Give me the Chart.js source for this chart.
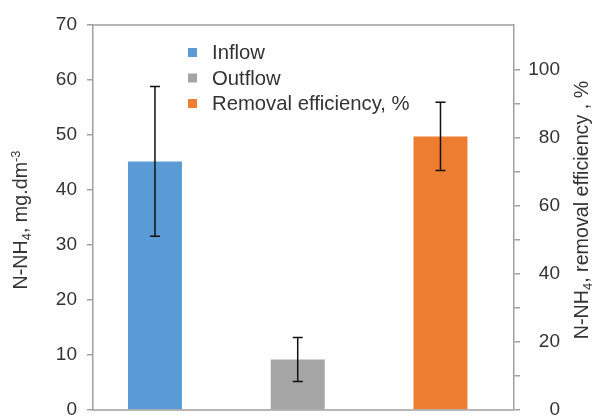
<!DOCTYPE html>
<html>
<head>
<meta charset="utf-8">
<script src="https://cdn.jsdelivr.net/npm/chart.js@4/dist/chart.umd.min.js"></script>
<style>
  html, body { margin: 0; padding: 0; background: #fff; }
  #wrap { width: 606px; height: 419px; }
</style>
</head>
<body>
<div id="wrap"><canvas id="c" width="606" height="419"></canvas></div>
<script>
// Ammonium nitrogen: inflow / outflow concentration and removal efficiency
const categories = ['Inflow', 'Outflow', 'Removal efficiency, %'];
const meanValues = [45.2, 9.2, 80.3];      // mg.dm-3, mg.dm-3, %
const errorValues = [13.6, 4.0, 10.0];     // +/- deviation
const valueAxes = ['y', 'y', 'y1'];
const barColors = ['#5B9BD5', '#A5A5A5', '#ED7D31'];
const leftTicks = [0, 10, 20, 30, 40, 50, 60, 70];
const rightTicks = [0, 10, 20, 30, 40, 50, 60, 70, 80, 90, 100];
const rightLabelStep = 20;

const FONT = "'Liberation Sans', Arial, sans-serif";
const TEXT = '#333333';
const AXIS = '#A0A0A0';

// one dataset per category so each bar gets its own legend entry and axis
const datasets = categories.map((name, i) => ({
  label: name,
  data: [{ x: i, y: meanValues[i] }],
  errors: [errorValues[i]],
  yAxisID: valueAxes[i],
  backgroundColor: barColors[i],
  borderWidth: 0,
  grouped: false,
  categoryPercentage: 1,
  barPercentage: 0.378
}));

const errorBars = {
  id: 'errorBars',
  afterDatasetsDraw(chart) {
    const ctx = chart.ctx;
    ctx.save();
    ctx.strokeStyle = '#111';
    ctx.lineWidth = 1.5;
    chart.data.datasets.forEach((ds, di) => {
      const meta = chart.getDatasetMeta(di);
      const scale = chart.scales[ds.yAxisID];
      meta.data.forEach((bar, i) => {
        const v = ds.data[i].y, e = ds.errors[i];
        if (v == null || e == null) return;
        const yt = scale.getPixelForValue(v + e);
        const yb = scale.getPixelForValue(v - e);
        const x = bar.x, cap = 5;
        ctx.beginPath();
        ctx.moveTo(x, yt); ctx.lineTo(x, yb);
        ctx.moveTo(x - cap, yt); ctx.lineTo(x + cap, yt);
        ctx.moveTo(x - cap, yb); ctx.lineTo(x + cap, yb);
        ctx.stroke();
      });
    });
    ctx.restore();
  }
};

// text runs with sub/superscripts, drawn rotated to read bottom-to-top
function drawRotatedRich(ctx, runs, cx, cy, size) {
  ctx.save();
  ctx.translate(cx, cy);
  ctx.rotate(-Math.PI / 2);
  ctx.textBaseline = 'middle';
  ctx.textAlign = 'left';
  let total = 0;
  runs.forEach(r => {
    ctx.font = (size * (r.scale || 1)) + 'px ' + FONT;
    r.w = ctx.measureText(r.text).width;
    total += r.w;
  });
  let x = -total / 2;
  runs.forEach(r => {
    ctx.font = (size * (r.scale || 1)) + 'px ' + FONT;
    ctx.fillText(r.text, x, (r.shift || 0) * size);
    x += r.w;
  });
  ctx.restore();
}

const decorations = {
  id: 'decorations',
  afterDraw(chart) {
    const ctx = chart.ctx;
    const a = chart.chartArea;
    ctx.save();
    // top and bottom frame lines
    ctx.strokeStyle = AXIS;
    ctx.lineWidth = 1.5;
    ctx.beginPath();
    ctx.moveTo(a.left, a.top); ctx.lineTo(a.right, a.top);
    ctx.moveTo(a.left, a.bottom); ctx.lineTo(a.right, a.bottom);
    ctx.stroke();

    // legend inside the plot area
    ctx.font = '20.3px ' + FONT;
    ctx.textBaseline = 'middle';
    ctx.textAlign = 'left';
    const rows = [52.5, 78, 103.5];
    chart.data.datasets.forEach((ds, i) => {
      ctx.fillStyle = ds.backgroundColor;
      ctx.fillRect(188, rows[i] - 4.5, 9, 9);
      ctx.fillStyle = TEXT;
      ctx.fillText(ds.label, 212, rows[i] + 1);
    });

    // axis titles
    ctx.fillStyle = TEXT;
    drawRotatedRich(ctx, [
      { text: 'N-NH' },
      { text: '4', scale: 0.65, shift: 0.28 },
      { text: ', mg.dm' },
      { text: '-3', scale: 0.65, shift: -0.3 }
    ], 22, 220, 19.7);
    drawRotatedRich(ctx, [
      { text: 'N-NH' },
      { text: '4', scale: 0.65, shift: 0.28 },
      { text: ', removal efficiency , %' }
    ], 583, 210, 19.7);
    ctx.restore();
  }
};

new Chart(document.getElementById('c'), {
  type: 'bar',
  data: { datasets },
  options: {
    responsive: false,
    animation: false,
    devicePixelRatio: 1,
    layout: { padding: { top: 25, bottom: 9, left: 0, right: 46 } },
    plugins: { legend: { display: false }, tooltip: { enabled: false } },
    scales: {
      x: {
        type: 'linear', display: false, offset: false,
        min: -0.434, max: 2.515,
        afterBuildTicks: s => { s.ticks = categories.map((_, i) => ({ value: i })); }
      },
      y: {
        position: 'left',
        min: 0, max: 70,
        afterBuildTicks: s => { s.ticks = leftTicks.map(v => ({ value: v })); },
        afterFit: s => { s.width = 93; s.paddingTop = 0; s.paddingBottom = 0; },
        ticks: { font: { family: FONT, size: 19 }, color: TEXT, padding: 10 },
        grid: { drawOnChartArea: false, drawTicks: true, tickLength: 6, color: AXIS, lineWidth: 1.5 },
        border: { display: true, color: AXIS, width: 1.5 }
      },
      y1: {
        position: 'right',
        min: 0, max: 113,
        afterBuildTicks: s => { s.ticks = rightTicks.map(v => ({ value: v })); },
        afterFit: s => { s.width = 46; s.paddingTop = 0; s.paddingBottom = 0; },
        ticks: {
          font: { family: FONT, size: 19 }, color: TEXT, padding: 8,
          crossAlign: 'far',
          callback: v => (v % rightLabelStep === 0 ? String(v) : '')
        },
        grid: { drawOnChartArea: false, drawTicks: true, tickLength: 6, color: AXIS, lineWidth: 1.5 },
        border: { display: true, color: AXIS, width: 1.5 }
      }
    }
  },
  plugins: [errorBars, decorations]
});
</script>
</body>
</html>
